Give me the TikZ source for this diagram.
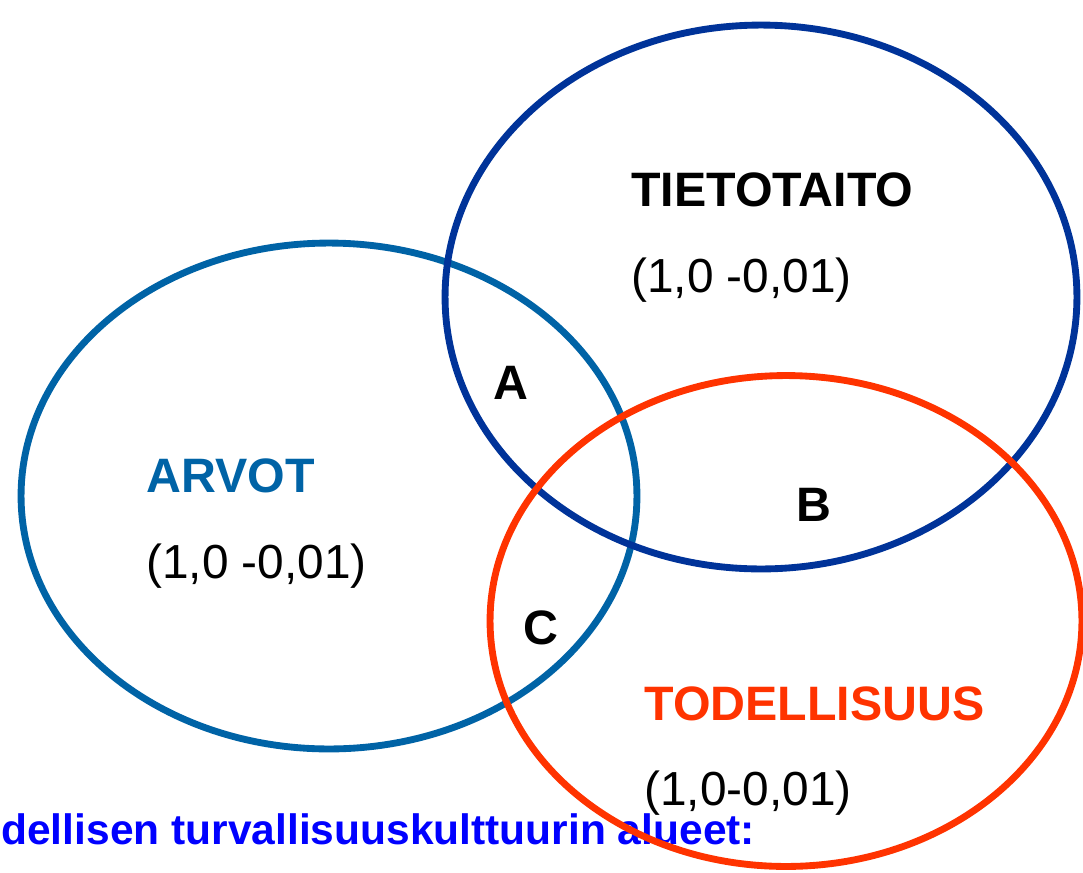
\documentclass[tikz,border=0pt]{standalone}
\usepackage{fontspec}
\setmainfont{Liberation Sans}
\usetikzlibrary{shapes.geometric}

\definecolor{arvoblue}{RGB}{0,99,166}
\definecolor{tietoblue}{RGB}{0,51,153}
\definecolor{todred}{RGB}{255,51,0}
\definecolor{capblue}{RGB}{0,0,255}

\begin{document}
\begin{tikzpicture}[
   x=0.02cm, y=-0.02cm,
   ring/.style={ellipse, draw=#1, line width=3.9pt, inner sep=0pt},
   big/.style={font=\fontsize{27.2}{32}\selectfont, inner sep=0pt, anchor=base west},
   bigbf/.style={big, font=\fontsize{27.5}{32}\selectfont\bfseries},
   letter/.style={font=\fontsize{27.5}{32}\selectfont\bfseries, inner sep=0pt}
]
\useasboundingbox (0,0) rectangle (1083,873);
% caption under the circles
\node[inner sep=0pt, anchor=base west, text=capblue,
      font=\fontsize{24.2}{28}\selectfont\bfseries] (caption) at (1,844)
      {dellisen turvallisuuskulttuurin alueet:};
% the three areas
\node[ring=arvoblue, minimum width=12.32cm, minimum height=10.12cm] (arvoring) at (329,496) {};
\node[ring=tietoblue, minimum width=12.64cm, minimum height=10.88cm] (tietoring) at (761,297) {};
\node[ring=todred, minimum width=11.84cm, minimum height=9.82cm] (todring) at (786,621) {};
% names and ranges
\node[bigbf] (tieto) at (631,206) {TIETOTAITO};
\node[big] (tietoval) at (631,292) {(1,0 -0,01)};
\node[bigbf, text=arvoblue] (arvot) at (146,492) {ARVOT};
\node[big] (arvotval) at (146,578) {(1,0 -0,01)};
\node[bigbf, text=todred] (todell) at (644,720) {TODELLISUUS};
\node[big] (todellval) at (644,805) {(1,0-0,01)};
% overlaps
\node[letter] (labA) at (511,383) {A};
\node[letter] (labB) at (814,505) {B};
\node[letter] (labC) at (541,628) {C};
\end{tikzpicture}
\end{document}
